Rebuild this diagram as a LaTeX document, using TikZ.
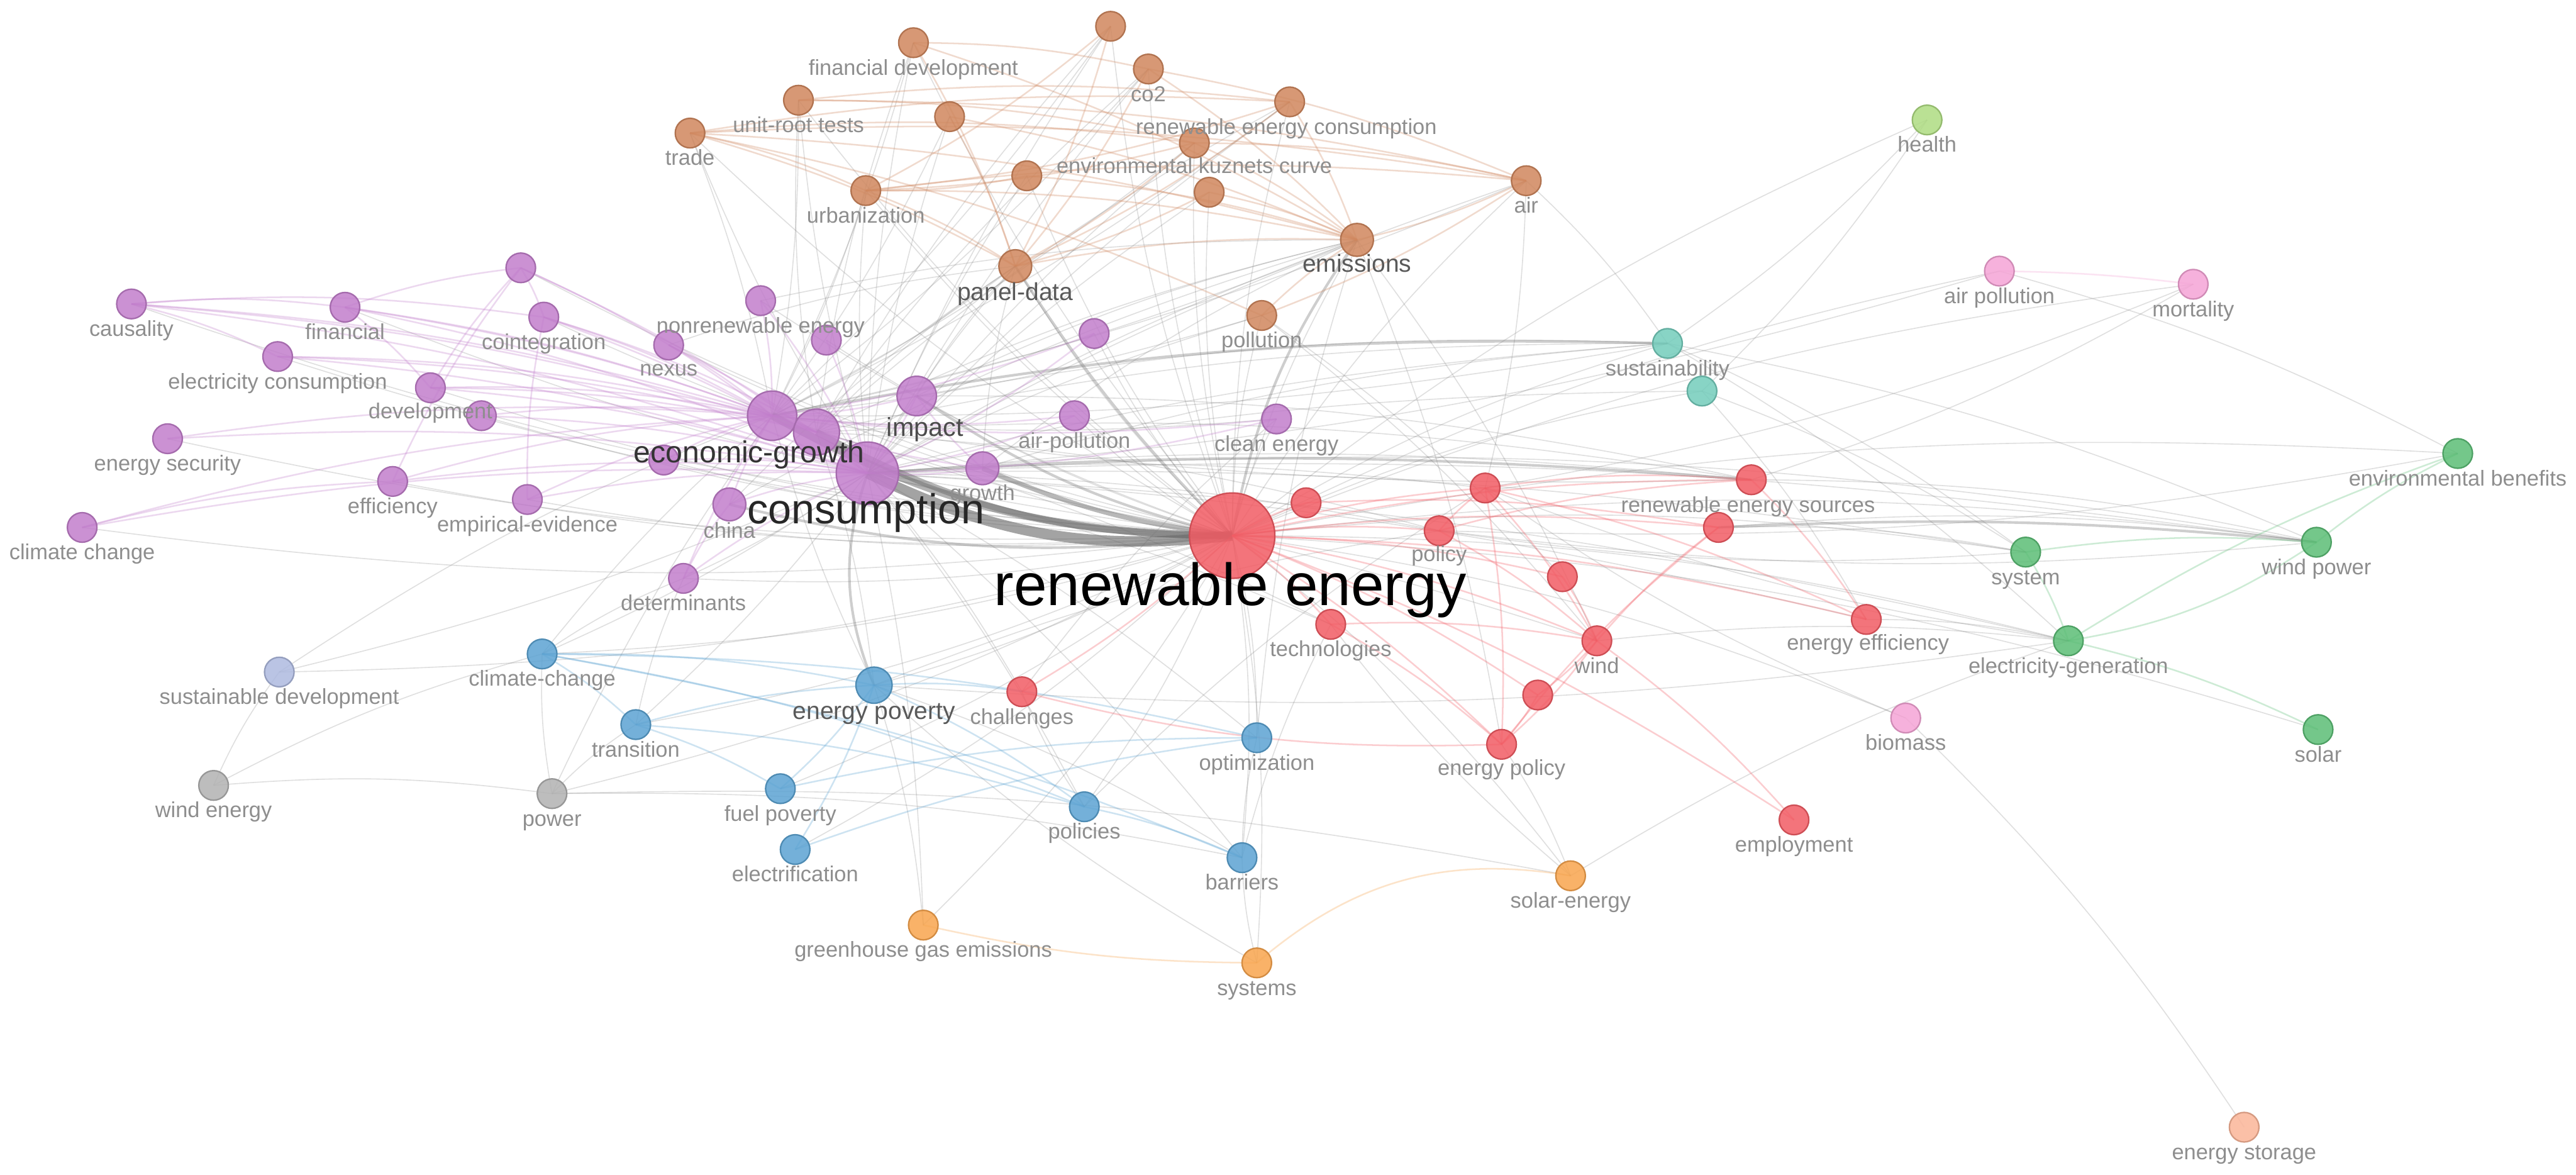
\documentclass[tikz,border=0pt]{standalone}
\usepackage{fontspec}
\setmainfont{Liberation Sans}
\usetikzlibrary{backgrounds}
\definecolor{cR}{HTML}{F25C64}
\definecolor{cP}{HTML}{C27ECC}
\definecolor{cB}{HTML}{D0875E}
\definecolor{cBl}{HTML}{5CA3D3}
\definecolor{cG}{HTML}{5CBE76}
\definecolor{cT}{HTML}{74CDBC}
\definecolor{cLG}{HTML}{AEDC82}
\definecolor{cPk}{HTML}{F5A4D6}
\definecolor{cO}{HTML}{F8A54E}
\definecolor{cLv}{HTML}{AEBAE0}
\definecolor{cGr}{HTML}{B2B2B2}
\definecolor{cS}{HTML}{FBB598}
\definecolor{lblgray}{HTML}{8E8E8E}
\tikzset{
  kwn/.style={circle, inner sep=0pt, fill opacity=0.85, line width=0.5pt},
  lbl/.style={font=\fontsize{7.5}{8}\selectfont, text=lblgray, inner sep=0pt},
  lblm/.style={font=\fontsize{8.5}{9}\selectfont, text=black!65, inner sep=0pt},
  ge/.style={draw=black!50, line width=0.35pt, draw opacity=0.25},
  gm/.style={draw=black!55, line width=0.9pt, draw opacity=0.35},
  ce/.style={draw=#1, line width=0.55pt, draw opacity=0.3},
}
\newcommand\kw[5]{\node[kwn, fill=#4, draw=#4!85!black, minimum size=#5*0.04cm] (#1) at (#2,#3) {};}
\newcommand\lb[4]{\node[lbl, anchor=mid] (#1-l) at (#2,#3) {#4};}
\begin{document}
\begin{tikzpicture}[x=0.02cm, y=-0.02cm]
\useasboundingbox (0,0) rectangle (1568,715);
% ---------- brown cluster
\kw{fdev}{556}{26}{cB}{9}
\kw{bna}{676}{16}{cB}{9}
\kw{co}{699}{42}{cB}{9}
\kw{urt}{486}{61}{cB}{9}
\kw{bnb}{578}{71}{cB}{9}
\kw{rec}{785}{62}{cB}{9}
\kw{trade}{420}{81}{cB}{9}
\kw{ekc}{727}{87}{cB}{9}
\kw{bnc}{625}{107}{cB}{9}
\kw{bnd}{736}{117}{cB}{9}
\kw{urb}{527}{116}{cB}{9}
\kw{air}{929}{110}{cB}{9}
\kw{emis}{826}{146}{cB}{10}
\kw{panel}{618}{162}{cB}{10}
\kw{poll}{768}{192}{cB}{9}
% ---------- purple cluster
\kw{caus}{80}{185}{cP}{9}
\kw{fin}{210}{187}{cP}{9}
\kw{pna}{317}{163}{cP}{9}
\kw{coint}{331}{193}{cP}{9}
\kw{nonren}{463}{183}{cP}{9}
\kw{nexus}{407}{210}{cP}{9}
\kw{pnb}{503}{207}{cP}{9}
\kw{pnc}{666}{203}{cP}{9}
\kw{elec}{169}{217}{cP}{9}
\kw{dev}{262}{236}{cP}{9}
\kw{pnd}{293}{253}{cP}{9}
\kw{eg}{470}{253}{cP}{15}
\kw{pne}{497}{263}{cP}{14}
\kw{impact}{558}{241}{cP}{12}
\kw{cons}{528}{288}{cP}{19}
\kw{esec}{102}{267}{cP}{9}
\kw{airp}{654}{253}{cP}{9}
\kw{clean}{777}{255}{cP}{9}
\kw{growth}{598}{285}{cP}{10}
\kw{pnf}{404}{280}{cP}{9}
\kw{eff}{239}{293}{cP}{9}
\kw{emp}{321}{304}{cP}{9}
\kw{china}{444}{307}{cP}{10}
\kw{cc}{50}{321}{cP}{9}
\kw{det}{416}{352}{cP}{9}
% ---------- red cluster
\kw{re}{750}{326}{cR}{26}
\kw{rna}{795}{306}{cR}{9}
\kw{policy}{876}{323}{cR}{9}
\kw{rnb}{904}{297}{cR}{9}
\kw{res}{1066}{292}{cR}{9}
\kw{rnc}{1046}{321}{cR}{9}
\kw{rnd}{951}{351}{cR}{9}
\kw{tech}{810}{380}{cR}{9}
\kw{wind}{972}{390}{cR}{9}
\kw{eeff}{1136}{377}{cR}{9}
\kw{rne}{936}{423}{cR}{9}
\kw{epol}{914}{453}{cR}{9}
\kw{chal}{622}{421}{cR}{9}
\kw{empl}{1092}{499}{cR}{9}
% ---------- other clusters
\kw{sust}{1015}{209}{cT}{9}
\kw{tna}{1036}{238}{cT}{9}
\kw{health}{1173}{73}{cLG}{9}
\kw{airpol}{1217}{165}{cPk}{9}
\kw{mort}{1335}{173}{cPk}{9}
\kw{biomass}{1160}{437}{cPk}{9}
\kw{envb}{1496}{276}{cG}{9}
\kw{system}{1233}{336}{cG}{9}
\kw{windp}{1410}{330}{cG}{9}
\kw{elgen}{1259}{390}{cG}{9}
\kw{solar}{1411}{444}{cG}{9}
\kw{clch}{330}{398}{cBl}{9}
\kw{epov}{532}{417}{cBl}{11}
\kw{trans}{387}{441}{cBl}{9}
\kw{optim}{765}{449}{cBl}{9}
\kw{fuel}{475}{480}{cBl}{9}
\kw{pols}{660}{491}{cBl}{9}
\kw{electr}{484}{517}{cBl}{9}
\kw{barr}{756}{522}{cBl}{9}
\kw{sdev}{170}{409}{cLv}{9}
\kw{went}{130}{478}{cGr}{9}
\kw{power}{336}{483}{cGr}{9}
\kw{ghg}{562}{563}{cO}{9}
\kw{systems}{765}{586}{cO}{9}
\kw{solen}{956}{533}{cO}{9}
\kw{estor}{1366}{686}{cS}{9}
% ---------- labels
\lb{fdev}{556}{41}{financial development}
\lb{co}{699}{57}{co2}
\lb{urt}{486}{76}{unit-root tests}
\lb{rec}{783}{77}{renewable energy consumption}
\lb{trade}{420}{96}{trade}
\lb{ekc}{727}{101}{environmental kuznets curve}
\lb{urb}{527}{131}{urbanization}
\lb{air}{929}{125}{air}
\node[lblm, anchor=mid] (emis-l) at (826,161) {emissions};
\node[lblm, anchor=mid] (panel-l) at (618,178) {panel-data};
\lb{poll}{768}{207}{pollution}
\lb{caus}{80}{200}{causality}
\lb{fin}{210}{202}{financial}
\lb{coint}{331}{208}{cointegration}
\lb{nonren}{463}{198}{nonrenewable energy}
\lb{nexus}{407}{224}{nexus}
\lb{elec}{169}{232}{electricity consumption}
\lb{dev}{262}{250}{development}
\lb{esec}{102}{282}{energy security}
\lb{airp}{654}{268}{air-pollution}
\lb{clean}{777}{270}{clean energy}
\lb{growth}{598}{300}{growth}
\lb{eff}{239}{308}{efficiency}
\lb{emp}{321}{319}{empirical-evidence}
\lb{china}{444}{323}{china}
\lb{cc}{50}{336}{climate change}
\lb{det}{416}{367}{determinants}
\node[lblm, anchor=mid, font=\fontsize{9}{10}\selectfont, text=black!70] (impact-l) at (563,261) {impact};
\node[anchor=mid, inner sep=0pt, font=\fontsize{10.5}{12}\selectfont, text=black!80] (eg-l) at (456,277) {economic-growth};
\node[anchor=mid, inner sep=0pt, font=\fontsize{14.5}{16}\selectfont, text=black!85] (cons-l) at (527,314) {consumption};
\node[anchor=mid, inner sep=0pt, font=\fontsize{20.6}{22}\selectfont, text=black] (re-l) at (749,364) {renewable energy};
\lb{policy}{876}{337}{policy}
\lb{res}{1064}{307}{renewable energy sources}
\lb{tech}{810}{395}{technologies}
\lb{wind}{972}{405}{wind}
\lb{eeff}{1137}{391}{energy efficiency}
\lb{epol}{914}{467}{energy policy}
\lb{chal}{622}{436}{challenges}
\lb{empl}{1092}{514}{employment}
\lb{sust}{1015}{224}{sustainability}
\lb{health}{1173}{88}{health}
\lb{airpol}{1217}{180}{air pollution}
\lb{mort}{1335}{188}{mortality}
\lb{biomass}{1160}{452}{biomass}
\lb{envb}{1496}{291}{environmental benefits}
\lb{system}{1233}{351}{system}
\lb{windp}{1410}{345}{wind power}
\lb{elgen}{1259}{405}{electricity-generation}
\lb{solar}{1411}{459}{solar}
\lb{clch}{330}{413}{climate-change}
\node[lblm, anchor=mid] (epov-l) at (532,433) {energy poverty};
\lb{trans}{387}{456}{transition}
\lb{optim}{765}{464}{optimization}
\lb{fuel}{475}{495}{fuel poverty}
\lb{pols}{660}{506}{policies}
\lb{electr}{484}{532}{electrification}
\lb{barr}{756}{537}{barriers}
\lb{sdev}{170}{424}{sustainable development}
\lb{went}{130}{493}{wind energy}
\lb{power}{336}{498}{power}
\lb{ghg}{562}{578}{greenhouse gas emissions}
\lb{systems}{765}{601}{systems}
\lb{solen}{956}{548}{solar-energy}
\lb{estor}{1366}{701}{energy storage}
% ---------- edges
\begin{scope}[on background layer]
\fill[white] (0,0) rectangle (1568,715);
\foreach \b in {emis,panel,poll,trade,urt,fdev,bna,co,rec,ekc,bnc,bnd,urb,air,nonren,nexus,pnb,pnc,coint,fin,caus,elec,dev,esec,eff,emp,det,cc,airp,clean,sust,tna,health,airpol,mort,envb,system,windp,elgen,solar,biomass,clch,epov,trans,optim,fuel,pols,barr,electr,sdev,power,solen,systems,ghg,pna,pnd,pnf}
  \draw[ge] (re.center) to[bend left=7] (\b.center);
\foreach \b in {fdev,bna,co,urt,bnb,rec,trade,ekc,bnc,bnd,urb,air,emis,panel,poll,sust,tna,res,rnb,policy,system,windp,elgen,wind,eeff,tech,chal,optim,pols,barr,det,clch,trans,sdev,ghg}
  \draw[ge] (cons.center) to[bend left=5] (\b.center);
\foreach \b in {fdev,urt,bnb,trade,urb,emis,bna,co,panel,ekc,rec,sust,res,clch,epov,power,clean,poll,air}
  \draw[ge] (eg.center) to[bend right=5] (\b.center);
\foreach \b in {fdev,bna,co,urt,rec,emis,panel,sust,res,policy,epov,tech}
  \draw[ge] (pne.center) to[bend left=6] (\b.center);
\foreach \a/\b in {impact/emis,impact/panel,impact/sust,impact/res,growth/emis,growth/panel,growth/sust,growth/windp,china/panel,china/emis,nonren/emis,nexus/panel,sust/windp,sust/elgen,sust/system,tna/eeff,tna/system,res/windp,rnc/windp,rnc/system,health/sust,health/tna,airpol/envb,mort/rnb,mort/res,airpol/cons,wind/elgen,eeff/elgen,solen/elgen,biomass/estor,biomass/rnb,went/power,went/sdev,went/clch,power/trans,power/clch,power/solen,power/barr,sdev/eg,epov/barr,epov/ghg,clch/det,trans/det,epov/policy,systems/barr,systems/epov,epol/solen,solen/tech,pols/chal,barr/optim,optim/emis,barr/tech,pols/rnb,chal/clean,windp/policy,envb/policy,system/policy,elgen/rnb,elgen/epov,emis/wind,emis/epol,air/rnb,air/sust,poll/rnd,poll/wind}
  \draw[ge] (\a.center) to[bend left=6] (\b.center);
\draw[gm] (cons.center) to[bend right=20] (epov.center);
\draw[gm] (emis.center) to[bend right=12] (re.center);
\draw[gm] (panel.center) to[bend right=6] (re.center);
\draw[gm] (impact.center) to[bend right=10] (re.center);
\draw[gm] (china.center) to[bend right=10] (re.center);
\draw[gm] (sust.center) to[bend right=6] (eg.center);
\draw[gm] (res.center) to[bend right=4] (cons.center);
\draw[gm] (windp.center) to[bend right=4] (rnc.center);
\draw[draw=black!55, line width=1.6pt, draw opacity=0.5] (growth.center) to[bend right=8] (re.center);
\draw[draw=black!55, line width=2.2pt, draw opacity=0.55] (pne.center) to[bend right=14] (re.center);
\draw[draw=black!55, line width=2.6pt, draw opacity=0.55] (eg.center) to[bend right=14] (re.center);
\draw[draw=black!60, line width=3.6pt, draw opacity=0.6] (cons.center) to[bend right=16] (re.center);
\foreach \a/\b in {caus/fin,caus/elec,caus/eg,caus/cons,caus/pne,fin/pna,fin/cons,fin/eg,fin/pne,pna/coint,pna/eg,pna/cons,coint/cons,coint/eg,coint/pne,elec/eg,elec/cons,elec/pne,dev/eg,dev/cons,dev/pne,esec/cons,esec/eg,eff/eg,eff/cons,eff/pna,emp/eg,emp/cons,china/eg,china/cons,det/china,det/eg,det/cons,nexus/eg,nexus/cons,nonren/cons,nonren/eg,pnb/cons,pnc/cons,pnc/eg,airp/cons,airp/eg,clean/cons,clean/eg,growth/eg,growth/cons,impact/eg,impact/cons,cc/eff,cc/eg,cc/cons,pnd/eg,pnd/cons,pnf/cons,pnf/eg,dev/pna,emp/coint,growth/impact,eg/pne,pne/cons,caus/coint,fin/dev}
  \draw[ce=cP] (\a.center) to[bend left=6] (\b.center);
\foreach \a/\b in {trade/rec,trade/emis,trade/air,trade/ekc,trade/urb,trade/panel,urt/rec,urt/ekc,urt/air,fdev/co,fdev/emis,fdev/panel,bna/panel,bna/urb,co/air,co/emis,co/panel,rec/emis,rec/urb,rec/panel,ekc/urb,ekc/panel,ekc/emis,bnc/urb,bnc/emis,bnd/panel,urb/air,urb/emis,panel/emis,air/emis,air/poll,poll/emis,bnb/emis,bnb/panel,urb/panel,bnd/emis,ekc/air,trade/poll}
  \draw[ce=cB] (\a.center) to[bend left=6] (\b.center);
\foreach \a/\b in {re/rna,re/policy,re/rnb,re/res,re/rnc,re/rnd,re/tech,re/wind,re/eeff,re/rne,re/epol,re/chal,re/empl,policy/rnb,policy/res,rnb/res,rnb/wind,rnb/epol,wind/rne,wind/epol,wind/rnc,epol/rnc,rnd/wind,wind/empl,tech/wind,tech/epol,rne/epol,rna/rnc,rnb/eeff,res/eeff,policy/wind}
  \draw[ce=cR] (\a.center) to[bend left=6] (\b.center);
\draw[ce=cR] (chal.center) to[bend right=8] (epol.center);
\foreach \a/\b in {clch/epov,clch/trans,clch/optim,clch/pols,trans/epov,trans/pols,trans/fuel,epov/fuel,epov/electr,epov/pols,electr/optim,fuel/optim,pols/barr,epov/chal,clch/barr}
  \draw[ce=cBl] (\a.center) to[bend left=6] (\b.center);
\foreach \a/\b in {system/windp,windp/envb,elgen/envb,elgen/solar,system/elgen}
  \draw[ce=cG] (\a.center) to[bend left=6] (\b.center);
\draw[ce=cG] (elgen.center) to[bend right=12] (windp.center);
\draw[ce=cPk] (airpol.center) to[bend left=3] (mort.center);
\draw[ce=cO] (ghg.center) to[bend right=6] (systems.center);
\draw[ce=cO] (systems.center) to[bend left=25] (solen.center);
\end{scope}
\end{tikzpicture}
\end{document}
